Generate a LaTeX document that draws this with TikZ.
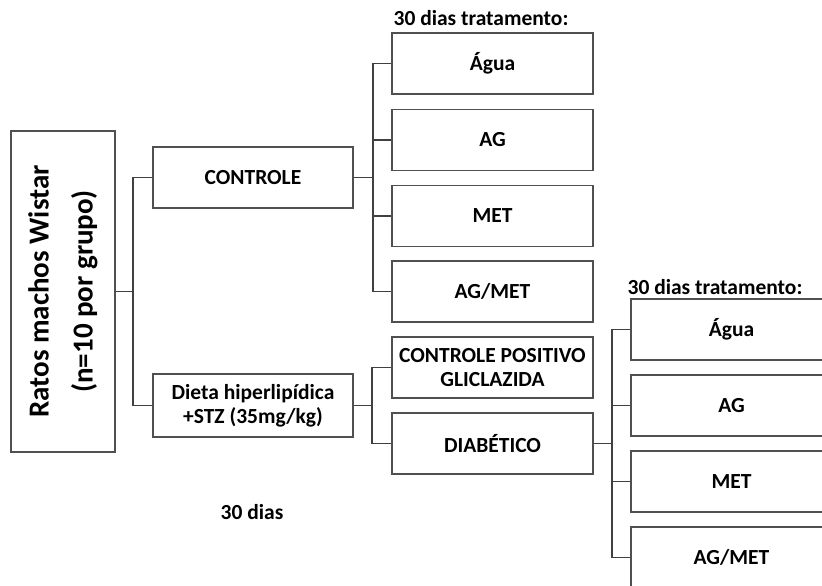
\documentclass[tikz,border=0pt]{standalone}
\usepackage{fontspec}
\setmainfont{Carlito}
\usepackage{graphicx}
\definecolor{linec}{HTML}{404040}
\definecolor{boxc}{HTML}{505050}
\tikzset{
  box/.style={draw=boxc, line width=1.3pt, fill=white, align=center, inner sep=2pt,
    font=\fontsize{21.5}{24}\selectfont\bfseries, text=black},
  conn/.style={draw=linec, line width=1.3pt},
  lbl/.style={font=\fontsize{21.5}{24}\selectfont\bfseries, text=black, inner sep=0pt}
}
\begin{document}
\begin{tikzpicture}[x=1pt,y=-1pt]
\useasboundingbox (0,0) rectangle (822,586);
\clip (0,0) rectangle (822,586);
% main box
\node[box, minimum width=104pt, minimum height=321pt] (main) at (63,291.5)
  {\rotatebox{90}{\parbox{300pt}{\centering\fontsize{29}{44}\selectfont Ratos machos Wistar\\(n=10 por grupo)}}};
% level 1
\node[box, minimum width=200pt, minimum height=61pt] (ctrl) at (253,177.5) {CONTROLE};
\node[box, minimum width=200pt, minimum height=63pt] (dieta) at (253,405.5) {Dieta hiperlipídica\\+STZ (35mg/kg)};
% top treatment boxes
\node[box, minimum width=201pt, minimum height=61pt] (t1) at (492.5,63.5) {Água};
\node[box, minimum width=201pt, minimum height=61pt] (t2) at (492.5,140) {AG};
\node[box, minimum width=201pt, minimum height=61pt] (t3) at (492.5,216) {MET};
\node[box, minimum width=201pt, minimum height=61pt] (t4) at (492.5,291.5) {AG/MET};
% diabetic branch
\node[box, minimum width=201pt, minimum height=61pt] (cp) at (492.5,367.5) {CONTROLE POSITIVO\\GLICLAZIDA};
\node[box, minimum width=201pt, minimum height=61pt] (diab) at (492.5,443.5) {DIABÉTICO};
% right treatment boxes
\node[box, minimum width=201pt, minimum height=61pt] (r1) at (731.5,329.5) {Água};
\node[box, minimum width=201pt, minimum height=61pt] (r2) at (731.5,405.5) {AG};
\node[box, minimum width=201pt, minimum height=61pt] (r3) at (731.5,481.5) {MET};
\node[box, minimum width=201pt, minimum height=61pt] (r4) at (731.5,557.5) {AG/MET};
% labels
\node[lbl] (lt) at (481,18) {30 dias tratamento:};
\node[lbl] (lr) at (715,287) {30 dias tratamento:};
\node[lbl] (ld) at (252,512) {30 dias};
% bus coordinates
\coordinate (b1) at (133,291.5);
\coordinate (b2) at (373,177.5);
\coordinate (b3) at (372,405.5);
\coordinate (b4) at (612,443.5);
% connectors
\draw[conn] (main.east) -- (b1);
\draw[conn] (ctrl.west) -| (b1);
\draw[conn] (dieta.west) -| (b1);
\draw[conn] (ctrl.east) -- (b2);
\draw[conn] (t1.west) -| (b2);
\draw[conn] (t2.west) -| (b2);
\draw[conn] (t3.west) -| (b2);
\draw[conn] (t4.west) -| (b2);
\draw[conn] (dieta.east) -- (b3);
\draw[conn] (cp.west) -| (b3);
\draw[conn] (diab.west) -| (b3);
\draw[conn] (diab.east) -- (b4);
\draw[conn] (r1.west) -| (b4);
\draw[conn] (r2.west) -| (b4);
\draw[conn] (r3.west) -| (b4);
\draw[conn] (r4.west) -| (b4);
\end{tikzpicture}
\end{document}
